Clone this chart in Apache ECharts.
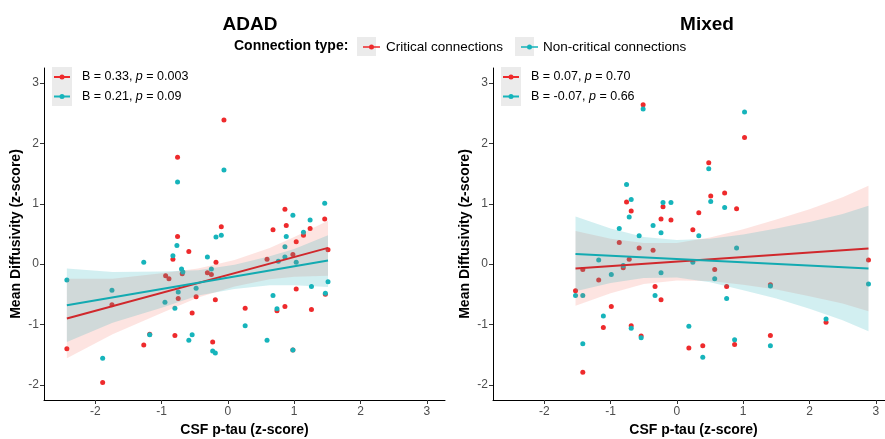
<!DOCTYPE html>
<html>
<head>
<meta charset="utf-8">
<script src="https://cdn.jsdelivr.net/npm/echarts@6/dist/echarts.min.js"></script>
<style>
  html, body { margin: 0; padding: 0; background: #fff; }
  #chart { width: 885px; height: 439px; }
</style>
</head>
<body>
<div id="chart"></div>
<script>
// tick labels (shared by both panels)
const xTicks = [-2, -1, 0, 1, 2, 3];
const yTicks = [-2, -1, 0, 1, 2, 3];

// ADAD panel: [CSF p-tau, mean diffusivity]
const adadCritical = [
  [-2.43, -1.40], [-1.89, -1.96], [-1.75, -0.67], [-1.27, -1.34], [-1.18, -1.16],
  [-0.83, 0.08], [-0.59, 0.21], [-0.94, -0.19], [-0.89, -0.24], [-0.69, -0.16],
  [-0.75, -0.57], [-0.54, -0.81], [-0.48, -0.54], [-0.80, -1.18], [-0.31, -0.14],
  [-0.25, -0.17], [-0.18, 0.03], [-0.19, -0.59], [-0.23, -1.29], [-0.06, 2.39],
  [-0.76, 1.77], [-0.10, 0.62], [-0.76, 0.46], [0.86, 0.91], [1.46, 0.75],
  [0.88, 0.64], [0.68, 0.57], [1.24, 0.59], [1.14, 0.48], [1.03, 0.37],
  [0.59, 0.08], [0.98, 0.16], [1.51, 0.24], [1.03, -0.41], [1.47, -0.50],
  [0.26, -0.73], [0.74, -0.77], [0.86, -0.70], [1.26, -0.75], [0.98, -1.42]
];
const adadNonCritical = [
  [-2.43, -0.26], [-1.89, -1.56], [-1.75, -0.43], [-1.27, 0.03], [-1.18, -1.17],
  [-0.77, 0.31], [-0.83, 0.14], [-0.70, -0.08], [-0.68, -0.13], [-0.95, -0.63],
  [-0.75, -0.46], [-0.80, -0.73], [-0.48, -0.40], [-0.54, -1.17], [-0.59, -1.26],
  [-0.31, 0.12], [-0.25, -0.08], [-0.23, -1.44], [-0.19, -1.47], [-0.06, 1.56],
  [-0.76, 1.36], [-0.18, 0.45], [-0.10, 0.48], [0.98, 0.81], [1.46, 1.01],
  [1.24, 0.73], [1.14, 0.53], [0.88, 0.46], [0.86, 0.29], [0.76, 0.05],
  [0.86, 0.12], [1.03, 0.03], [1.51, -0.29], [1.26, -0.37], [1.47, -0.48],
  [0.68, -0.52], [0.74, -0.74], [0.26, -1.02], [0.59, -1.26], [0.98, -1.42]
];
const adadCriticalFit = [[-2.43, -0.90], [1.51, 0.27]];
const adadNonCriticalFit = [[-2.43, -0.68], [1.51, 0.06]];
const adadBandX = [-2.43, -1.74, -1.0, -0.45, 0.1, 0.63, 1.0, 1.51];
const adadCriticalLo = [-1.56, -1.16, -0.81, -0.55, -0.37, -0.25, -0.21, -0.19];
const adadCriticalHi = [-0.24, -0.24, -0.15, -0.07, 0.07, 0.27, 0.45, 0.72];
const adadNonCriticalLo = [-1.29, -0.97, -0.72, -0.52, -0.41, -0.35, -0.35, -0.38];
const adadNonCriticalHi = [-0.07, -0.13, -0.12, -0.10, -0.01, 0.13, 0.25, 0.48];

// Mixed panel
const mixedCritical = [
  [-0.51, 2.64], [-0.76, 1.03], [-0.69, 0.88], [-0.21, 0.95], [-0.24, 0.75],
  [-0.09, 0.73], [-0.87, 0.36], [-0.57, 0.27], [-0.36, 0.23], [-0.72, 0.08],
  [-1.42, -0.09], [-0.81, -0.06], [-1.18, -0.26], [-1.53, -0.44], [-0.33, -0.37],
  [-0.24, -0.59], [-0.99, -0.70], [-1.11, -1.05], [-0.69, -1.02], [-0.54, -1.19],
  [-1.42, -1.79], [1.02, 2.10], [0.48, 1.68], [0.51, 1.13], [0.72, 1.18],
  [0.90, 0.92], [0.33, 0.85], [0.24, 0.57], [0.57, -0.09], [0.75, -0.37],
  [1.41, -0.34], [2.89, 0.07], [2.25, -0.96], [0.18, -1.39], [0.39, -1.35],
  [0.87, -1.33], [1.41, -1.18]
];
const mixedNonCritical = [
  [-0.51, 2.57], [-0.76, 1.32], [-0.69, 1.07], [-0.72, 0.78], [-0.87, 0.59],
  [-0.57, 0.47], [-0.21, 1.02], [-0.09, 1.02], [-0.36, 0.64], [-0.24, 0.52],
  [-1.18, 0.07], [-0.81, -0.02], [-0.99, -0.17], [-0.24, -0.14], [-1.53, -0.52],
  [-1.42, -0.52], [-0.33, -0.52], [-1.11, -0.86], [-0.69, -1.06], [-0.54, -1.22],
  [-1.42, -1.32], [1.02, 2.52], [0.48, 1.58], [0.51, 1.04], [0.72, 0.94],
  [0.33, 0.47], [0.90, 0.27], [0.24, 0.03], [0.57, -0.24], [0.75, -0.57],
  [1.41, -0.36], [2.89, -0.33], [2.25, -0.91], [0.18, -1.03], [0.39, -1.54],
  [0.87, -1.25], [1.41, -1.35]
];
const mixedCriticalFit = [[-1.53, -0.07], [2.89, 0.26]];
const mixedNonCriticalFit = [[-1.53, 0.17], [2.89, -0.07]];
const mixedBandX = [-1.53, -1.0, -0.5, 0.0, 0.5, 1.0, 1.5, 2.0, 2.5, 2.89];
const mixedCriticalLo = [-0.69, -0.48, -0.33, -0.27, -0.28, -0.34, -0.42, -0.53, -0.65, -0.78];
const mixedCriticalHi = [0.55, 0.42, 0.35, 0.35, 0.44, 0.58, 0.74, 0.91, 1.11, 1.30];
const mixedNonCriticalLo = [-0.45, -0.31, -0.23, -0.22, -0.30, -0.43, -0.57, -0.74, -0.93, -1.11];
const mixedNonCriticalHi = [0.79, 0.59, 0.45, 0.40, 0.42, 0.49, 0.59, 0.70, 0.83, 0.97];

// inset annotations
const adadStats = [['0.33', '0.003'], ['0.21', '0.09']];
const mixedStats = [['0.07', '0.70'], ['-0.07', '0.66']];

const RED = '#ee2a2c';
const CYAN = '#16b4bb';
const RED_LINE = '#d0282c';
const CYAN_LINE = '#12aab1';
const SANS = '"Liberation Sans", Arial, sans-serif';

const chart = echarts.init(document.getElementById('chart'));

function xAxisFor(gridIndex) {
  return {
    type: 'value', gridIndex: gridIndex, min: -2.775, max: 3.275,
    name: 'CSF p-tau (z-score)', nameLocation: 'middle', nameGap: 23,
    nameTextStyle: { fontFamily: SANS, fontWeight: 'bold', fontSize: 14, color: '#000' },
    axisLine: { onZero: false, lineStyle: { color: '#000', width: 1 } },
    axisTick: { show: true, length: 4, lineStyle: { color: '#333' }, customValues: xTicks },
    axisLabel: { color: '#4d4d4d', fontFamily: SANS, fontSize: 12, margin: 6, customValues: xTicks },
    splitLine: { show: false }
  };
}
function yAxisFor(gridIndex) {
  return {
    type: 'value', gridIndex: gridIndex, min: -2.25, max: 3.25,
    name: 'Mean Diffusivity (z-score)', nameLocation: 'middle', nameGap: 21,
    nameTextStyle: { fontFamily: SANS, fontWeight: 'bold', fontSize: 14, color: '#000' },
    axisLine: { onZero: false, lineStyle: { color: '#000', width: 1 } },
    axisTick: { show: true, length: 4, lineStyle: { color: '#333' }, customValues: yTicks },
    axisLabel: { color: '#4d4d4d', fontFamily: SANS, fontSize: 12, margin: 5, customValues: yTicks },
    splitLine: { show: false }
  };
}

function scatter(name, data, idx, color) {
  return {
    name: name, type: 'scatter', xAxisIndex: idx, yAxisIndex: idx,
    data: data, symbolSize: 5, itemStyle: { color: color, opacity: 1 }, z: 2
  };
}
// confidence band: one polygon through the upper edge and back along the lower edge
function band(name, xs, lo, hi, idx, fill) {
  return {
    name: name + ' band', type: 'custom', xAxisIndex: idx, yAxisIndex: idx,
    data: xs.map((x, i) => [x, lo[i], hi[i]]),
    encode: { x: 0, y: [1, 2] }, silent: true, z: 3,
    renderItem: function (params, api) {
      if (params.dataIndex !== 0) return;
      const upper = xs.map((x, i) => api.coord([x, hi[i]]));
      const lower = xs.map((x, i) => api.coord([x, lo[i]])).reverse();
      return { type: 'polygon', shape: { points: upper.concat(lower) }, style: { fill: fill } };
    }
  };
}
function fit(name, data, idx, color) {
  return {
    name: name + ' fit', type: 'line', xAxisIndex: idx, yAxisIndex: idx, data: data,
    showSymbol: false, silent: true, z: 4, lineStyle: { color: color, width: 2 }
  };
}

function insetLegend(left, stats) {
  const rows = [];
  stats.forEach((s, i) => {
    const cy = 77 + i * 19.5;
    const col = i === 0 ? RED : CYAN;
    rows.push({ type: 'line', shape: { x1: left + 2, y1: cy, x2: left + 18, y2: cy }, style: { stroke: col, lineWidth: 2 } });
    rows.push({ type: 'circle', shape: { cx: left + 10, cy: cy, r: 2.5 }, style: { fill: col } });
    rows.push({
      type: 'text', x: left + 30, y: cy,
      style: {
        text: 'B = ' + s[0] + ', {i|p} = ' + s[1],
        fill: '#000', font: '12.5px ' + SANS, verticalAlign: 'middle',
        rich: { i: { fontStyle: 'italic', fontSize: 12.5, fontFamily: SANS } }
      }
    });
  });
  return [{ type: 'rect', shape: { x: left, y: 67, width: 20, height: 39 }, style: { fill: '#ebebeb' }, z: 0 }].concat(rows);
}

const legendIcon = 'path://M0,1.75 L17,1.75 L17,3.25 L0,3.25 Z M6,2.5 A2.5,2.5 0 1,1 11,2.5 A2.5,2.5 0 1,1 6,2.5 Z';

const option = {
  backgroundColor: '#fff',
  animation: false,
  title: [
    { text: 'ADAD', left: 245, top: 10, textAlign: 'center', textStyle: { fontFamily: SANS, fontWeight: 'bold', fontSize: 19, color: '#000' } },
    { text: 'Mixed', left: 702, top: 10, textAlign: 'center', textStyle: { fontFamily: SANS, fontWeight: 'bold', fontSize: 19, color: '#000' } },
    { text: 'Connection type:', left: 229, top: 34, textStyle: { fontFamily: SANS, fontWeight: 'bold', fontSize: 14, color: '#000' } }
  ],
  legend: [
    {
      data: ['Critical connections'], left: 358, top: 35, itemWidth: 17, itemHeight: 5, icon: legendIcon,
      textStyle: { fontFamily: SANS, fontSize: 13.5, color: '#000', padding: [0, 0, 0, 1] },
      selectedMode: false
    },
    {
      data: ['Non-critical connections'], left: 516, top: 35, itemWidth: 17, itemHeight: 5, icon: legendIcon,
      textStyle: { fontFamily: SANS, fontSize: 13.5, color: '#000', padding: [0, 0, 0, 0] },
      selectedMode: false
    }
  ],
  graphic: [
    { type: 'rect', shape: { x: 357, y: 37, width: 19, height: 19 }, style: { fill: '#ebebeb' }, z: 0 },
    { type: 'rect', shape: { x: 515, y: 37, width: 19, height: 19 }, style: { fill: '#ebebeb' }, z: 0 }
  ].concat(insetLegend(52, adadStats), insetLegend(501, mixedStats)),
  grid: [
    { left: 44, top: 68, width: 401, height: 332, outerBoundsMode: 'none' },
    { left: 493, top: 68, width: 401, height: 332, outerBoundsMode: 'none' }
  ],
  xAxis: [xAxisFor(0), xAxisFor(1)],
  yAxis: [yAxisFor(0), yAxisFor(1)],
  series: [
    scatter('Critical connections', adadCritical, 0, RED),
    scatter('Non-critical connections', adadNonCritical, 0, CYAN),
    scatter('Critical connections', mixedCritical, 1, RED),
    scatter('Non-critical connections', mixedNonCritical, 1, CYAN),
    band('adad-crit', adadBandX, adadCriticalLo, adadCriticalHi, 0, 'rgba(240,90,70,0.16)'),
    band('adad-non', adadBandX, adadNonCriticalLo, adadNonCriticalHi, 0, 'rgba(30,175,185,0.2)'),
    band('mixed-crit', mixedBandX, mixedCriticalLo, mixedCriticalHi, 1, 'rgba(240,90,70,0.16)'),
    band('mixed-non', mixedBandX, mixedNonCriticalLo, mixedNonCriticalHi, 1, 'rgba(30,175,185,0.2)'),
    fit('adad-crit', adadCriticalFit, 0, RED_LINE),
    fit('adad-non', adadNonCriticalFit, 0, CYAN_LINE),
    fit('mixed-crit', mixedCriticalFit, 1, RED_LINE),
    fit('mixed-non', mixedNonCriticalFit, 1, CYAN_LINE)
  ]
};

chart.setOption(option);
</script>
</body>
</html>
